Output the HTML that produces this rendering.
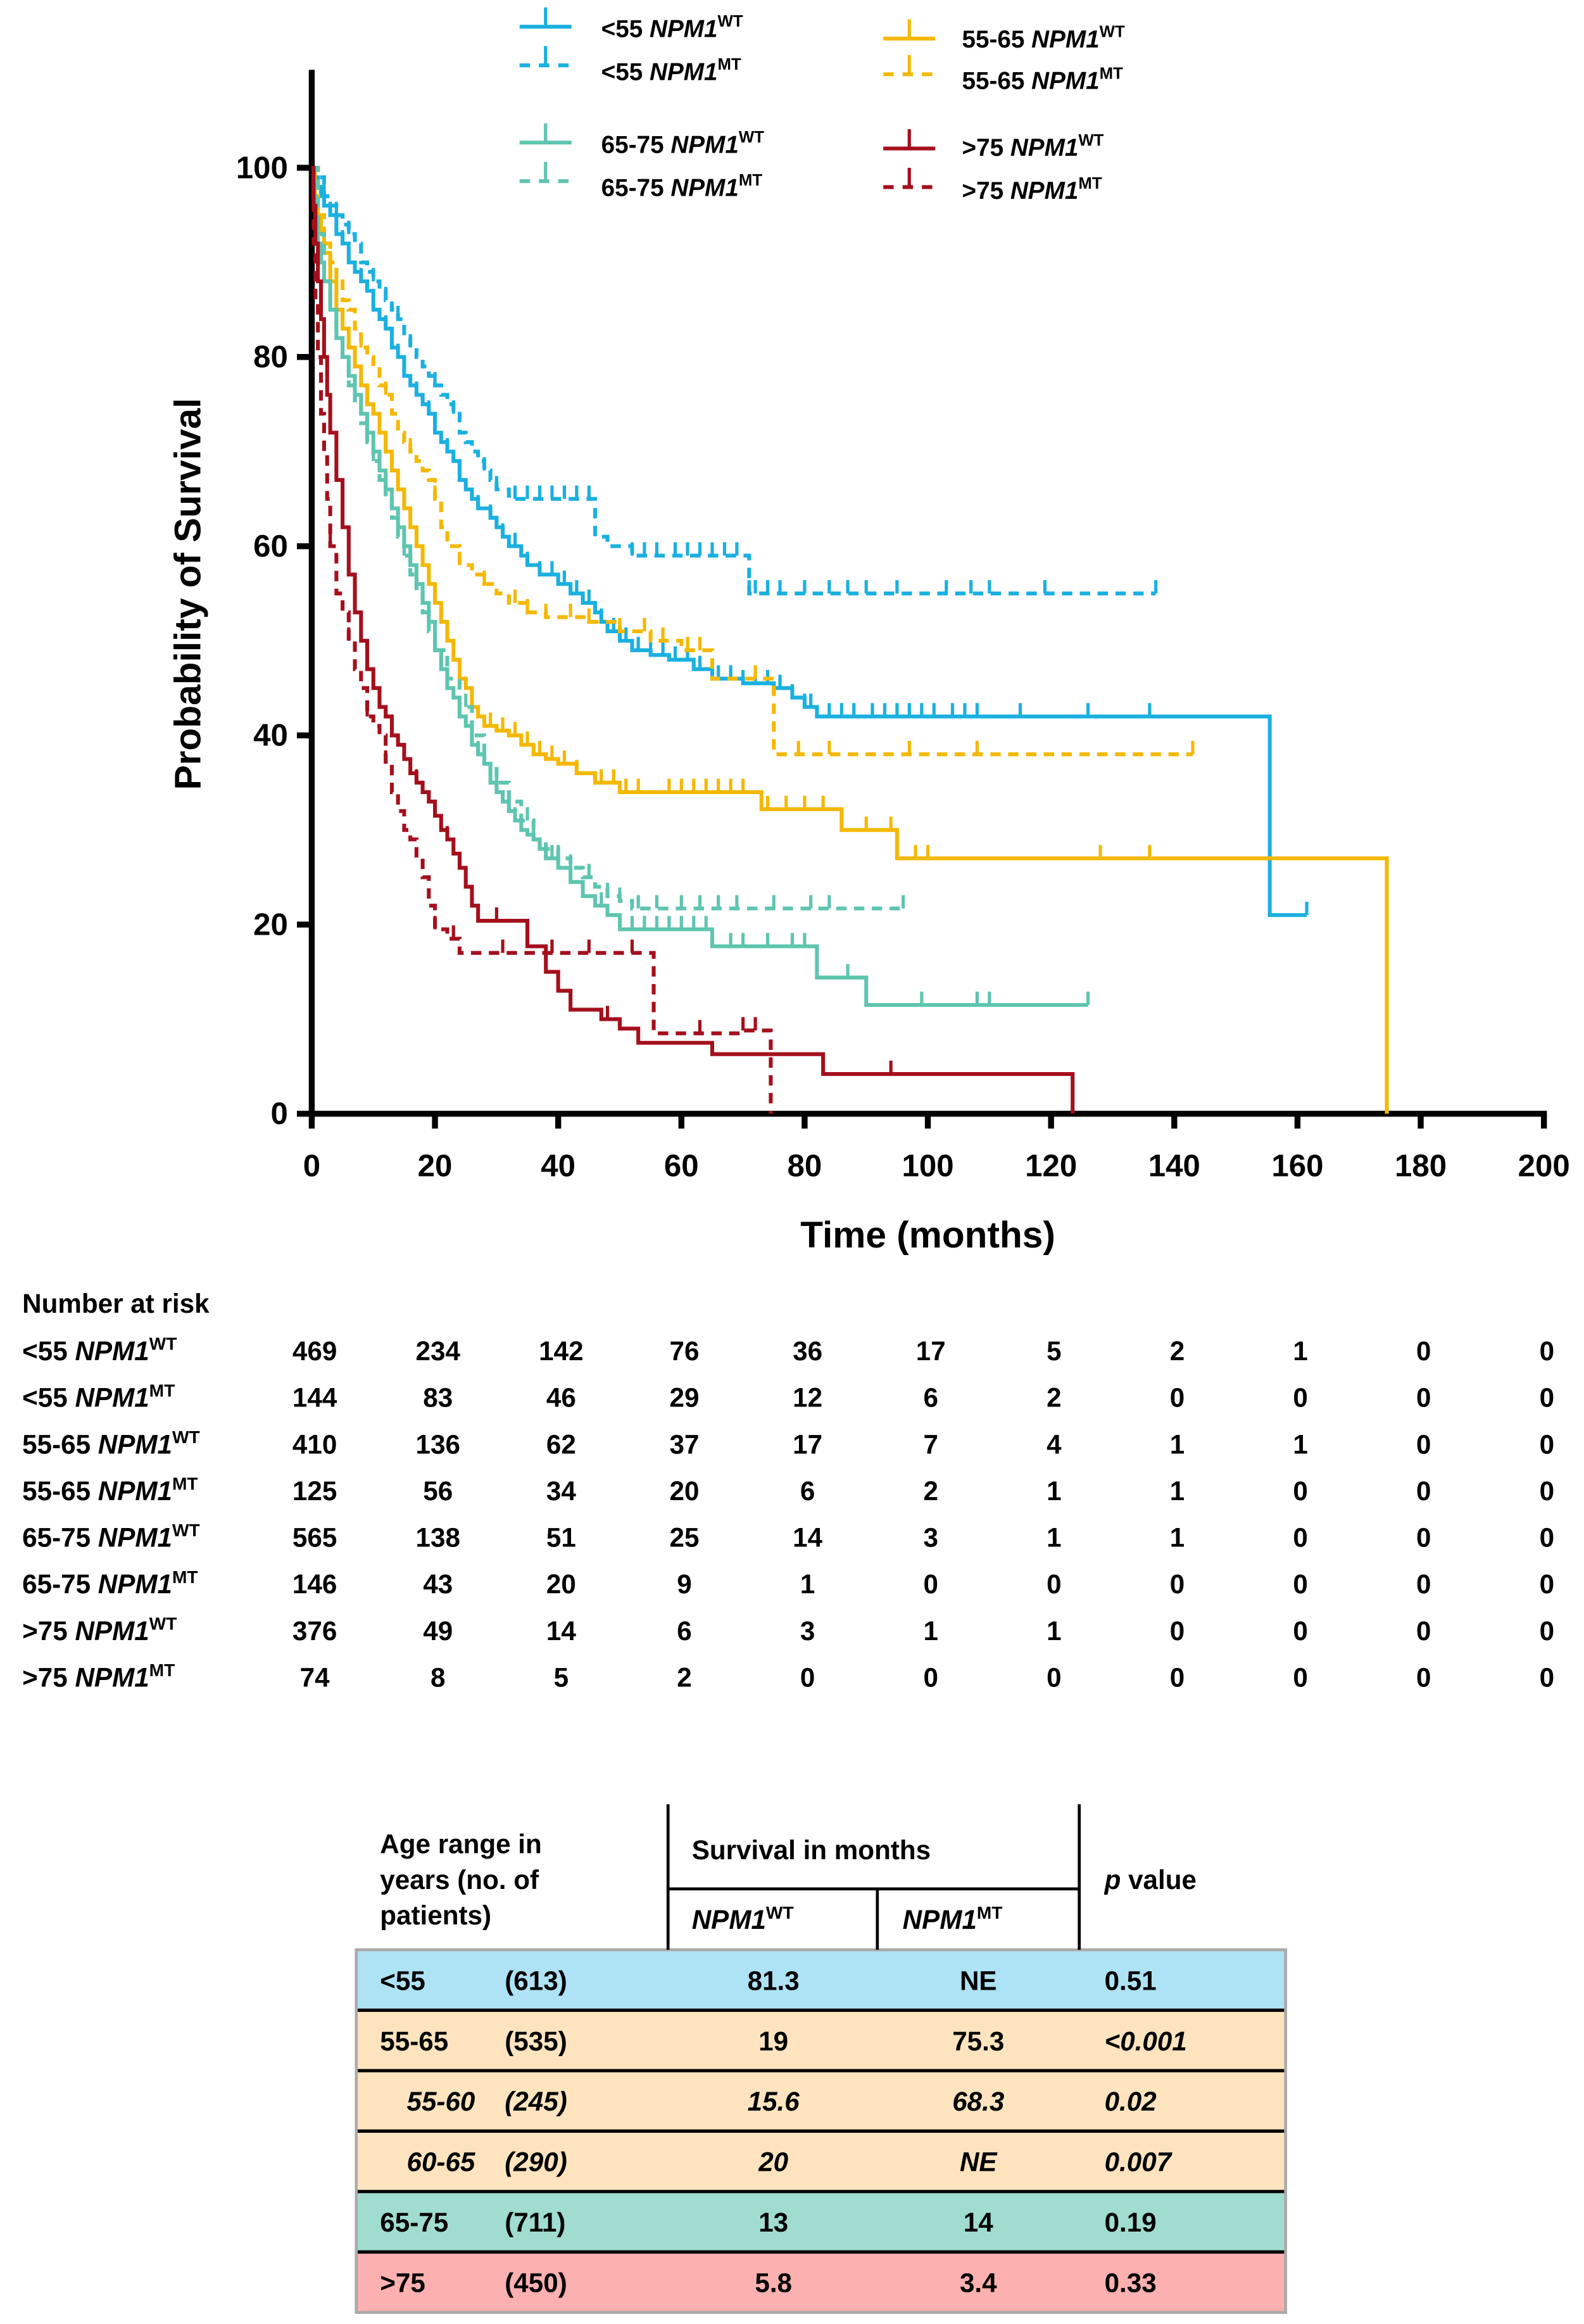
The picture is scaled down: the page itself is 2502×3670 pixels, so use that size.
<!DOCTYPE html>
<html><head><meta charset="utf-8"><style>
html,body{margin:0;padding:0;background:#fff}
svg{display:block}
text{font-family:"Liberation Sans",Arial,sans-serif;font-weight:bold;fill:#000}
</style></head><body>
<svg id="fig" width="2502" height="3670" viewBox="0 0 1067 1565" preserveAspectRatio="none" xmlns="http://www.w3.org/2000/svg">
<g id="plot"></g>
<g id="legend"></g>
<g id="risk"></g>
<g id="summary"></g>
</svg>
<script>
// ---- chart data ----
const xTicks = [0,20,40,60,80,100,120,140,160,180,200];
const yTicks = [0,20,40,60,80,100];
const blueWT_t = [0.5,1,1.5,2,3,4,5,6,7,8,9,10,11,12,13,14,15,16,17,18,19,20,21,22,23,24,25,26,27,29,30,31,32,34,35,37,40,42,44,46,47,48,50,52,55,58,62,65,70,75,78,80,82,155.5];
const blueWT_s = [99,98,97,96,95,93,92,90,89,88,87,85,84,83,81,80,78,77,76,75,74,72,71,70,69,67,66,65,64,63,62,61,60,59,58,57,56,55,54,53,52,51,50,49,48.5,48,47,46,45.5,45,44,43,42,21];
const blueWT_end = 161.5;
const blueMT_t = [1,2,3,4,5,6,7,8,9,10,11,12,13,14,15,16,17,18,19,20,21,22,23,24,25,26,27,28,29,30,32,46,48,52,71];
const blueMT_s = [99,97,96,95,94,93,92,90,89,88,87,86,85,84,82,81,80,79,78,77,76,75,74,72,71,70,69,68,67,66,65,61,60,59,55];
const blueMT_end = 137;
const yelWT_t = [0.5,1,1.5,2,3,4,5,6,7,8,9,10,11,12,13,14,15,16,17,18,19,20,21,22,23,24,25,26,27,28,30,32,34,36,38,40,43,46,50,73,86,95,174.5];
const yelWT_s = [97,95,93,91,88,85,83,81,79,77,75,74,72,70,68,66,64,62,60,58,56,54,52,50,48,46,45,43,42,41,40.5,40,39,38,37.5,37,36,35,34,32.2,30,27,0];
const yelWT_end = 174.5;
const yelMT_t = [1,2,3,4,5,6,7,8,9,10,11,12,13,14,15,16,17,18,19,20,21,22,24,26,28,30,32,35,38,45,50,55,60,65,75];
const yelMT_s = [95,92,90,88,86,85,83,81,80,79,77,76,74,72,71,70,69,68,67,65,62,60,58,57,56,55,54,53,52.5,52,51,50,49,46,38];
const yelMT_end = 143;
const tealWT_t = [0.3,0.6,1,1.5,2,3,4,5,6,7,8,9,10,11,12,13,14,15,16,17,18,19,20,21,22,23,24,25,26,27,28,29,30,31,32,33,34,35,36,37,38,40,42,44,46,48,50,65,82,90];
const tealWT_s = [97,94,92,90,88,85,82,80,78,76,74,72,70,68,66,64,62,60,58,56,54,52,49,47,45,44,42,41,39,38,37,35,34,33,32,31,30,29.5,29,28,27,26,24.5,23,22,21,19.5,17.7,14.4,11.5];
const tealWT_end = 126;
const tealMT_t = [1,2,3,4,5,6,7,8,9,10,11,12,13,14,15,16,17,18,19,20,22,24,26,28,30,32,34,36,38,40,42,44,46,48,50,52];
const tealMT_s = [93,88,85,82,80,77,75,73,71,69,67,65,63,61,59,57,55,53,51,49,46,43,40,37,35,33,31,29,28,27,26,25,24,23,22.5,21.7];
const tealMT_end = 96;
const redWT_t = [0.3,0.6,1,1.5,2,2.5,3,4,5,6,7,8,9,10,11,12,13,14,15,16,17,18,19,20,21,22,23,24,25,26,27,35,38,40,42,47,50,53,65,83,123.5];
const redWT_s = [96,92,88,84,80,76,72,67,62,57,53,50,47,45,43,42,40,39,37.5,36,35,34,33,31.5,30,29,27.5,26,24,22,20.4,17.7,15,13,11,10,9,7.5,6.3,4.2,0];
const redWT_end = 123.5;
const redMT_t = [0.3,0.6,1,1.5,2,2.5,3,4,5,6,7,8,9,10,11,12,13,14,15,16,17,18,19,20,22,24,55.5,70,74.5];
const redMT_s = [92,86,80,74,70,65,60,55,53,50,47,45,42,41,40,37,34,32,30,29,27,25,22,19.5,18.5,17,8.5,8.8,0];
const redMT_end = 74.5;
const blueWT_c = [3,5,8,12,14,17,19,22,24,27,29,31,33,35,37,39,41,43,45,47,49,51,53,55,57,59,61,63,66,68,70,72,74,76,78,80,81,84,86,88,91,93,95,97,99,101,104,106,108,115,126,136,161.5];
const blueMT_c = [2,4,6,10,12,14,16,20,23,28,30,33,35,37,39,41,43,45,52,54,56,59,61,63,65,67,69,71,72,74,76,80,84,87,90,95,103,107,110,119,137];
const yelWT_c = [2,5,8,12,16,19,22,26,29,31,33,35,37,39,41,43,47,49,51,53,58,60,62,64,66,68,70,74,77,80,83,90,94,98,100,128,136];
const yelMT_c = [4,8,12,16,20,24,28,33,35,38,42,45,50,54,57,61,63,72,79,84,97,108,143];
const tealWT_c = [3,6,10,14,17,20,24,27,30,33,36,39,42,44,47,50,52,54,56,58,60,62,64,68,70,74,78,80,87,99,108,110,126];
const tealMT_c = [5,10,15,20,25,30,35,40,42,45,48,50,53,56,60,63,66,69,75,81,84,96];
const redWT_c = [2,5,8,10,13,15,17,20,22,24,27,30,35,48,94];
const redMT_c = [3,6,9,12,20,23,31,39,45,52,63,70,72];
const riskLabels = ["<55","<55","55-65","55-65","65-75","65-75",">75",">75"];
const riskSup = ["WT","MT","WT","MT","WT","MT","WT","MT"];
const riskRow0 = [469,234,142,76,36,17,5,2,1,0,0];
const riskRow1 = [144,83,46,29,12,6,2,0,0,0,0];
const riskRow2 = [410,136,62,37,17,7,4,1,1,0,0];
const riskRow3 = [125,56,34,20,6,2,1,1,0,0,0];
const riskRow4 = [565,138,51,25,14,3,1,1,0,0,0];
const riskRow5 = [146,43,20,9,1,0,0,0,0,0,0];
const riskRow6 = [376,49,14,6,3,1,1,0,0,0,0];
const riskRow7 = [74,8,5,2,0,0,0,0,0,0,0];

// ---- helpers ----
const NS = "http://www.w3.org/2000/svg";
const X0 = 210, X1 = 1040, Y0 = 750, Y100 = 113;
const xs = t => X0 + t * (X1 - X0) / 200;
const ys = s => Y0 - s * (Y0 - Y100) / 100;
function mk(tag, attrs, parent) {
  const e = document.createElementNS(NS, tag);
  for (const k in attrs) e.setAttribute(k, attrs[k]);
  parent.appendChild(e); return e;
}
const plot = document.getElementById('plot');
const legend = document.getElementById('legend');
const risk = document.getElementById('risk');
const summary = document.getElementById('summary');

let ax = mk('line', {x1:X0, y1:47, x2:X0, y2:Y0+2, stroke:'#000','stroke-width':4}, plot);


let ax2 = mk('line', {x1:X0-2, y1:Y0, x2:X1+2, y2:Y0, stroke:'#000','stroke-width':4}, plot);


yTicks.forEach(v => {
  const l = mk('line', {x1:X0-10, y1:ys(v), x2:X0, y2:ys(v), stroke:'#000','stroke-width':4}, plot);
  
  
  const t = mk('text', {x:X0-16, y:ys(v)+7, 'text-anchor':'end','font-size':21}, plot);
  t.textContent = v;
  
  
});
xTicks.forEach(v => {
  const l = mk('line', {x1:xs(v), y1:Y0, x2:xs(v), y2:Y0+10, stroke:'#000','stroke-width':4}, plot);
  
  
  const t = mk('text', {x:xs(v), y:Y0+42, 'text-anchor':'middle','font-size':21}, plot);
  t.textContent = v;
  
  
});
let xt = mk('text', {x:625, y:840, 'text-anchor':'middle','font-size':25}, plot);
xt.textContent = 'Time (months)';


let yt = mk('text', {x:0, y:0, 'text-anchor':'middle','font-size':25, transform:'translate(135,400) rotate(-90)'}, plot);
yt.textContent = 'Probability of Survival';



const curves = [
  {name:'curve-under55-wt', t:blueWT_t, s:blueWT_s, end:blueWT_end, c:blueWT_c, col:'#1ab0e0', dash:false},
  {name:'curve-under55-mt', t:blueMT_t, s:blueMT_s, end:blueMT_end, c:blueMT_c, col:'#1ab0e0', dash:true},
  {name:'curve-55-65-wt', t:yelWT_t, s:yelWT_s, end:yelWT_end, c:yelWT_c, col:'#f5b800', dash:false},
  {name:'curve-55-65-mt', t:yelMT_t, s:yelMT_s, end:yelMT_end, c:yelMT_c, col:'#f5b800', dash:true},
  {name:'curve-65-75-wt', t:tealWT_t, s:tealWT_s, end:tealWT_end, c:tealWT_c, col:'#5ec5b0', dash:false},
  {name:'curve-65-75-mt', t:tealMT_t, s:tealMT_s, end:tealMT_end, c:tealMT_c, col:'#5ec5b0', dash:true},
  {name:'curve-over75-wt', t:redWT_t, s:redWT_s, end:redWT_end, c:redWT_c, col:'#a50f1c', dash:false},
  {name:'curve-over75-mt', t:redMT_t, s:redMT_s, end:redMT_end, c:redMT_c, col:'#a50f1c', dash:true}
];
function sAt(cv, time) {
  let s = 100;
  for (let i = 0; i < cv.t.length; i++) { if (cv.t[i] <= time) s = cv.s[i]; }
  return s;
}
curves.forEach(cv => {
  const g = mk('g', {}, plot);
  
  
  let d = 'M' + xs(0) + ' ' + ys(100);
  for (let i = 0; i < cv.t.length; i++) d += ' H' + xs(cv.t[i]) + ' V' + ys(cv.s[i]);
  d += ' H' + xs(cv.end);
  const p = mk('path', {d:d, fill:'none', stroke:cv.col, 'stroke-width':2.6, 'stroke-dasharray': cv.dash ? '7 5' : 'none'}, g);
  
  
  cv.c.forEach(ct => {
    const yy = ys(sAt(cv, ct));
    const m = mk('line', {x1:xs(ct), y1:yy, x2:xs(ct), y2:yy-9, stroke:cv.col, 'stroke-width':2.2}, g);
    
    
  });
});

const legItems = [
  {lx:350, ly:18, tx:405, ty:25, pre:'<55 ', sup:'WT', col:'#1ab0e0', dash:false},
  {lx:350, ly:44, tx:405, ty:54, pre:'<55 ', sup:'MT', col:'#1ab0e0', dash:true},
  {lx:595, ly:26, tx:648, ty:32, pre:'55-65 ', sup:'WT', col:'#f5b800', dash:false},
  {lx:595, ly:50, tx:648, ty:60, pre:'55-65 ', sup:'MT', col:'#f5b800', dash:true},
  {lx:350, ly:96, tx:405, ty:103, pre:'65-75 ', sup:'WT', col:'#5ec5b0', dash:false},
  {lx:350, ly:122, tx:405, ty:132, pre:'65-75 ', sup:'MT', col:'#5ec5b0', dash:true},
  {lx:595, ly:100, tx:648, ty:105, pre:'>75 ', sup:'WT', col:'#a50f1c', dash:false},
  {lx:595, ly:126, tx:648, ty:134, pre:'>75 ', sup:'MT', col:'#a50f1c', dash:true}
];
legItems.forEach(it => {
  const g = mk('g', {}, legend);
  
  
  mk('line', {x1:it.lx, y1:it.ly, x2:it.lx+35, y2:it.ly, stroke:it.col, 'stroke-width':2.6, 'stroke-dasharray': it.dash ? '7 6' : 'none'}, g);
  mk('line', {x1:it.lx+17.5, y1:it.ly, x2:it.lx+17.5, y2:it.ly-13, stroke:it.col, 'stroke-width':2.2}, g);
  const t = mk('text', {x:it.tx, y:it.ty, 'font-size':16.5}, g);
  t.innerHTML = it.pre + '<tspan font-style="italic">NPM1</tspan><tspan font-size="11" dy="-7">' + it.sup + '</tspan>';
});

let hd = mk('text', {x:15, y:884, 'font-size':18}, risk);
hd.textContent = 'Number at risk';


const riskRows = [riskRow0,riskRow1,riskRow2,riskRow3,riskRow4,riskRow5,riskRow6,riskRow7];
riskRows.forEach((row, r) => {
  const yy = 916 + r * 31.4;
  const lab = mk('text', {x:15, y:yy, 'font-size':18}, risk);
  lab.innerHTML = riskLabels[r] + ' <tspan font-style="italic">NPM1</tspan><tspan font-size="12" dy="-7">' + riskSup[r] + '</tspan>';
  
  
  row.forEach((v, i) => {
    const t = mk('text', {x:xs(xTicks[i]) + 2, y:yy, 'text-anchor':'middle','font-size':18}, risk);
    t.textContent = v;
    
    
  });
});

const rowFill = ['#aee2f5','#fde4bf','#fde4bf','#fde4bf','#a0dcd0','#fcb0b0'];
const rowA = ['<55','55-65','55-60','60-65','65-75','>75'];
const rowN = ['(613)','(535)','(245)','(290)','(711)','(450)'];
const rowWT = ['81.3','19','15.6','20','13','5.8'];
const rowMT = ['NE','75.3','68.3','NE','14','3.4'];
const rowP = ['0.51','<0.001','0.02','0.007','0.19','0.33'];
const rowItal = [false,false,true,true,false,false];
const pItal = [false,true,true,true,false,false];
const TL = 240, TR = 866, RT = 1313, RH = 40.7;
rowA.forEach((a, i) => {
  const y = RT + i * RH;
  const g = mk('g', {}, summary);
  
  
  mk('rect', {x:TL, y:y, width:TR-TL, height:RH, fill:rowFill[i]}, g);
  const st = rowItal[i] ? 'italic' : 'normal';
  const ax = rowItal[i] ? 274 : 256;
  mk('text', {x:ax, y:y+27, 'font-size':18, 'font-style':st}, g).textContent = a;
  mk('text', {x:340, y:y+27, 'font-size':18, 'font-style':st}, g).textContent = rowN[i];
  mk('text', {x:521, y:y+27, 'font-size':18, 'font-style':st, 'text-anchor':'middle'}, g).textContent = rowWT[i];
  mk('text', {x:659, y:y+27, 'font-size':18, 'font-style':st, 'text-anchor':'middle'}, g).textContent = rowMT[i];
  mk('text', {x:744, y:y+27, 'font-size':18, 'font-style':pItal[i] ? 'italic' : 'normal'}, g).textContent = rowP[i];
  if (i > 0) mk('line', {x1:TL, y1:y, x2:TR, y2:y, stroke:'#000', 'stroke-width':2.2}, g);
});
mk('rect', {x:TL, y:RT, width:TR-TL, height:RH*6, fill:'none', stroke:'#aaa', 'stroke-width':2}, summary);
mk('line', {x1:450, y1:1215, x2:450, y2:RT, stroke:'#000','stroke-width':2}, summary);
mk('line', {x1:727, y1:1215, x2:727, y2:RT, stroke:'#000','stroke-width':2}, summary);
mk('line', {x1:591, y1:1272, x2:591, y2:RT, stroke:'#000','stroke-width':2}, summary);
mk('line', {x1:450, y1:1272, x2:727, y2:1272, stroke:'#000','stroke-width':2}, summary);
const hdrs = [
  {x:256, y:1248, s:'Age range in'},
  {x:256, y:1272, s:'years (no. of'},
  {x:256, y:1296, s:'patients)'},
  {x:466, y:1252, s:'Survival in months'}
];
hdrs.forEach(h => {
  const t = mk('text', {x:h.x, y:h.y, 'font-size':18}, summary);
  t.textContent = h.s;
  
  
});
let pv = mk('text', {x:744, y:1272, 'font-size':18}, summary);
pv.innerHTML = '<tspan font-style="italic">p</tspan> value';


let h1 = mk('text', {x:466, y:1299, 'font-size':18}, summary);
h1.innerHTML = '<tspan font-style="italic">NPM1</tspan><tspan font-size="12" dy="-7">WT</tspan>';


let h2 = mk('text', {x:608, y:1299, 'font-size':18}, summary);
h2.innerHTML = '<tspan font-style="italic">NPM1</tspan><tspan font-size="12" dy="-7">MT</tspan>';


</script>
</body></html>
